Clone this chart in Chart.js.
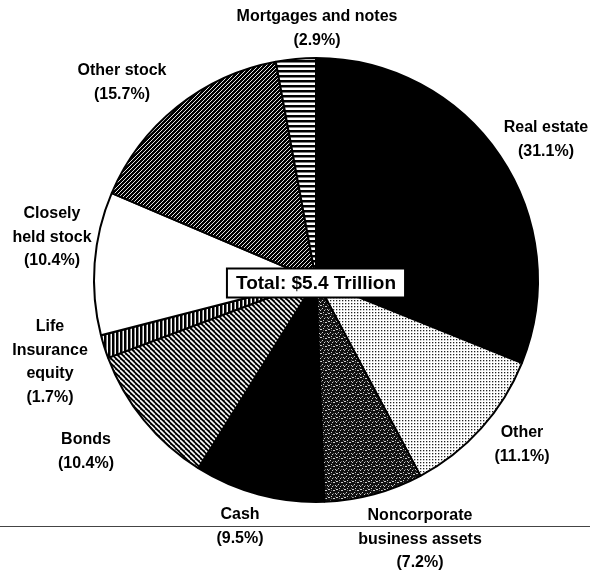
<!DOCTYPE html>
<html>
<head>
<meta charset="utf-8">
<script src="https://cdn.jsdelivr.net/npm/chart.js@4.4.1/dist/chart.umd.min.js"></script>
<style>
  html, body { margin: 0; padding: 0; background: #fff; }
  #wrap { width: 590px; height: 572px; }
</style>
</head>
<body>
<div id="wrap"><canvas id="pieChart" width="590" height="572"></canvas></div>
<script>
// Wealth composition, shares in percent (clockwise from 12 o'clock)
const categories = [
    "Real estate", "Other", "Noncorporate business assets", "Cash", "Bonds",
    "Life insurance equity", "Closely held stock", "Other stock", "Mortgages and notes"
];
const shares = [31.1, 11.1, 7.2, 9.5, 10.4, 1.7, 10.4, 15.7, 2.9];
const totalLabel = "Total: $5.4 Trillion";

// label lines as printed next to each slice
const labelLines = [
    ["Real estate", "(31.1%)"],
    ["Other", "(11.1%)"],
    ["Noncorporate", "business assets", "(7.2%)"],
    ["Cash", "(9.5%)"],
    ["Bonds", "(10.4%)"],
    ["Life", "Insurance", "equity", "(1.7%)"],
    ["Closely", "held stock", "(10.4%)"],
    ["Other stock", "(15.7%)"],
    ["Mortgages and notes", "(2.9%)"]
];
// where the first line of each label is centred
const labelAt = [
    [546, 128], [522, 433], [420, 516], [240, 515], [86, 440],
    [50, 327], [52, 214], [122, 71], [317, 17]
];

function makePattern(w, h, draw) {
    const c = document.createElement("canvas");
    c.width = w; c.height = h;
    const g = c.getContext("2d");
    draw(g, w, h);
    return g.createPattern(c, "repeat");
}

// fill patterns for the slices
const solid = "#000";
const dots = makePattern(6, 6, (g) => {
    g.fillStyle = "#fff"; g.fillRect(0, 0, 6, 6);
    g.fillStyle = "#222";
    g.fillRect(0, 0, 1.3, 1.3); g.fillRect(3, 3, 1.3, 1.3);
    g.fillRect(3, 0, 1.3, 1.3); g.fillRect(0, 3, 1.3, 1.3);
});
const speckle = makePattern(8, 8, (g) => {
    g.fillStyle = "#111"; g.fillRect(0, 0, 8, 8);
    g.fillStyle = "#cfcfcf";
    [[0,1],[1,1],[3,0],[5,2],[6,2],[2,4],[7,5],[4,6],[0,6]].forEach(p => g.fillRect(p[0], p[1], 1, 1));
    g.fillStyle = "#666";
    [[1,5],[5,5],[3,2],[7,0]].forEach(p => g.fillRect(p[0], p[1], 1, 1));
});
function diag(size, fg, bg, lw, forward) {
    return makePattern(size, size, (g, s) => {
        g.fillStyle = bg; g.fillRect(0, 0, s, s);
        g.strokeStyle = fg; g.lineWidth = lw;
        for (let k = -1; k <= 1; k++) {
            g.beginPath();
            if (forward) { g.moveTo(k * s, s); g.lineTo(k * s + s, 0); }
            else { g.moveTo(k * s, 0); g.lineTo(k * s + s, s); }
            g.stroke();
        }
    });
}
const slashDense = diag(4, "#fff", "#000", 0.9, true);
const backslash = diag(5, "#fff", "#000", 1.6, false);
const vertical = makePattern(4, 4, (g) => {
    g.fillStyle = "#000"; g.fillRect(0, 0, 4, 4);
    g.fillStyle = "#fff"; g.fillRect(2.5, 0, 1.5, 4);
});
const horizontal = makePattern(5, 5, (g) => {
    g.fillStyle = "#000"; g.fillRect(0, 0, 5, 5);
    g.fillStyle = "#fff"; g.fillRect(0, 2.5, 5, 2.5);
});

const fills = [solid, dots, speckle, solid, backslash, vertical, "#fff", slashDense, horizontal];

const overlay = {
    id: "overlay",
    afterDraw(chart) {
        const ctx = chart.ctx;
        const area = chart.chartArea;
        const cx = (area.left + area.right) / 2;
        const cy = (area.top + area.bottom) / 2;
        ctx.save();

        // rule across the bottom of the page
        ctx.strokeStyle = "#444";
        ctx.lineWidth = 1;
        ctx.beginPath();
        ctx.moveTo(0, 526.5); ctx.lineTo(590, 526.5);
        ctx.stroke();

        ctx.fillStyle = "#000";
        ctx.textAlign = "center";
        ctx.textBaseline = "middle";
        ctx.font = "bold 16px 'Liberation Sans', Arial, sans-serif";
        labelLines.forEach((lines, i) => {
            const [x, y] = labelAt[i];
            lines.forEach((t, j) => ctx.fillText(t, x, y + j * 23.5));
        });

        // total box in the middle
        ctx.font = "bold 19px 'Liberation Sans', Arial, sans-serif";
        const w = ctx.measureText(totalLabel).width + 18;
        const h = 29;
        ctx.fillStyle = "#fff";
        ctx.fillRect(cx - w / 2, cy + 3 - h / 2, w, h);
        ctx.strokeStyle = "#000";
        ctx.lineWidth = 2;
        ctx.strokeRect(cx - w / 2, cy + 3 - h / 2, w, h);
        ctx.fillStyle = "#000";
        ctx.fillText(totalLabel, cx, cy + 4);
        ctx.restore();
    }
};

new Chart(document.getElementById("pieChart").getContext("2d"), {
    type: "pie",
    data: {
        labels: categories,
        datasets: [{
            data: shares,
            backgroundColor: fills,
            borderColor: "#000",
            borderWidth: 2
        }]
    },
    options: {
        responsive: false,
        animation: false,
        layout: { padding: { left: 93, right: 51, top: 57, bottom: 69 } },
        plugins: {
            legend: { display: false },
            tooltip: { enabled: false }
        }
    },
    plugins: [overlay]
});
</script>
</body>
</html>
